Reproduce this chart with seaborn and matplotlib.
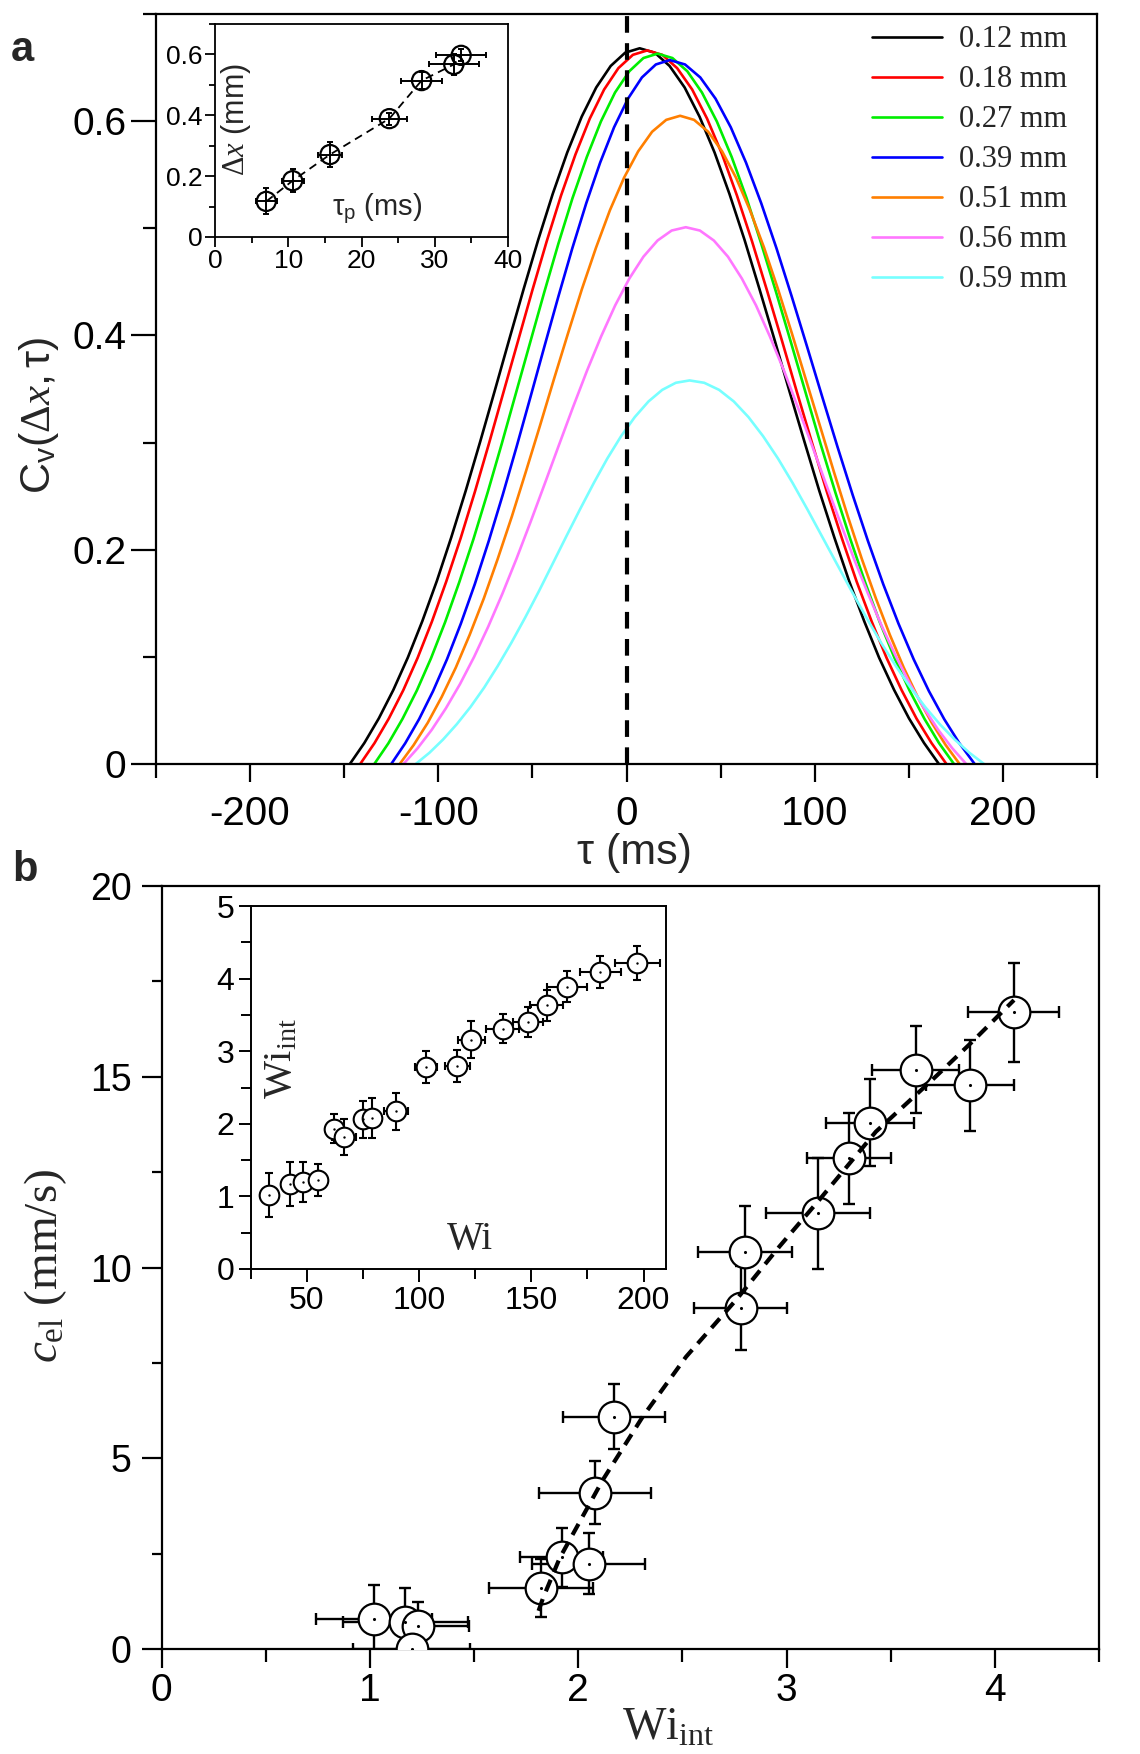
import matplotlib
matplotlib.use("Agg")
import matplotlib.pyplot as plt
import seaborn as sns
from matplotlib import font_manager
from matplotlib.ticker import MultipleLocator, FuncFormatter

# ---------------- data: panel a (correlation curves) ----------------
labels_a = ['0.12 mm', '0.18 mm', '0.27 mm', '0.39 mm', '0.51 mm', '0.56 mm', '0.59 mm']
colors_a = ['#000000', '#ff0000', '#00ee00', '#0000ff', '#ff7f00', '#ff77ff', '#77ffff']

tau_012 = [-147, -139.3, -131.6, -123.9, -116.2, -108.5, -100.8, -93.1, -85.4, -77.7, -70, -62.3, -54.6,
           -46.9, -39.2, -31.5, -23.8, -16.1, -8.4, -0.7, 7,
           15.0, 22.9, 30.9, 38.8, 46.8, 54.7, 62.7, 70.6, 78.6, 86.5, 94.5, 102.4, 110.4, 118.3, 126.3,
           134.2, 142.2, 150.1, 158.1, 166]
C_012 = [0, 0.0196, 0.0426, 0.0691, 0.0993, 0.1333, 0.1707, 0.2116, 0.2552, 0.3011, 0.3484, 0.3963, 0.4436,
         0.4893, 0.5321, 0.5707, 0.6042, 0.6314, 0.6515, 0.6639, 0.668,
         0.6639, 0.6515, 0.6314, 0.6042, 0.5707, 0.5321, 0.4893, 0.4436, 0.3963, 0.3484, 0.3011, 0.2552,
         0.2116, 0.1707, 0.1333, 0.0993, 0.0691, 0.0426, 0.0196, 0]

tau_018 = [-141.5, -133.9, -126.3, -118.6, -111, -103.4, -95.8, -88.1, -80.5, -72.9, -65.3, -57.6, -50,
           -42.4, -34.8, -27.1, -19.5, -11.9, -4.3, 3.4, 11,
           19.0, 26.9, 34.9, 42.8, 50.8, 58.7, 66.7, 74.6, 82.6, 90.5, 98.5, 106.4, 114.4, 122.3, 130.3,
           138.2, 146.2, 154.1, 162.1, 170]
C_018 = [0, 0.0195, 0.0424, 0.0689, 0.0990, 0.1329, 0.1702, 0.2109, 0.2544, 0.3002, 0.3474, 0.3951, 0.4423,
         0.4878, 0.5305, 0.5690, 0.6024, 0.6295, 0.6495, 0.6619, 0.666,
         0.6619, 0.6495, 0.6295, 0.6024, 0.5690, 0.5305, 0.4878, 0.4423, 0.3951, 0.3474, 0.3002, 0.2544,
         0.2109, 0.1702, 0.1329, 0.0990, 0.0689, 0.0424, 0.0195, 0]

tau_027 = [-134, -126.5, -119, -111.4, -103.9, -96.4, -88.9, -81.3, -73.8, -66.3, -58.8, -51.2, -43.7,
           -36.2, -28.7, -21.1, -13.6, -6.1, 1.5, 9.0, 16.5,
           24.4, 32.3, 40.1, 48, 55.9, 63.8, 71.6, 79.5, 87.4, 95.3, 103.1, 111, 118.9, 126.8, 134.6,
           142.5, 150.4, 158.3, 166.1, 174]
C_027 = [0, 0.0194, 0.0422, 0.0686, 0.0986, 0.1323, 0.1695, 0.2100, 0.2533, 0.2988, 0.3458, 0.3934, 0.4403,
         0.4856, 0.5281, 0.5665, 0.5997, 0.6267, 0.6466, 0.6589, 0.663,
         0.6589, 0.6466, 0.6267, 0.5997, 0.5665, 0.5281, 0.4856, 0.4403, 0.3934, 0.3458, 0.2988, 0.2533,
         0.2100, 0.1695, 0.1323, 0.0986, 0.0686, 0.0422, 0.0194, 0]

tau_039 = [-125, -117.6, -110.2, -102.8, -95.4, -88, -80.6, -73.2, -65.8, -58.4, -51, -43.6, -36.2,
           -28.8, -21.4, -14, -6.6, 0.8, 8.2, 15.6, 23,
           31.1, 39.2, 47.3, 55.4, 63.5, 71.6, 79.7, 87.8, 95.9, 104, 112.1, 120.2, 128.3, 136.4, 144.5,
           152.6, 160.7, 168.8, 176.9, 185]
C_039 = [0, 0.0193, 0.0419, 0.0680, 0.0977, 0.1311, 0.1679, 0.2081, 0.2510, 0.2961, 0.3427, 0.3898, 0.4363,
         0.4813, 0.5233, 0.5613, 0.5943, 0.6210, 0.6408, 0.6529, 0.657,
         0.6529, 0.6408, 0.6210, 0.5943, 0.5613, 0.5233, 0.4813, 0.4363, 0.3898, 0.3427, 0.2961, 0.2510,
         0.2081, 0.1679, 0.1311, 0.0977, 0.0680, 0.0419, 0.0193, 0]

tau_051 = [-120.5, -113.1, -105.6, -98.2, -90.7, -83.3, -75.8, -68.4, -60.9, -53.5, -46, -38.6, -31.1,
           -23.7, -16.2, -8.8, -1.3, 6.2, 13.6, 21.1, 28.5,
           35.9, 43.4, 50.8, 58.2, 65.6, 73.1, 80.5, 87.9, 95.3, 102.8, 110.2, 117.6, 125.0, 132.5, 139.9,
           147.3, 154.7, 162.2, 169.6, 177]
C_051 = [0, 0.0177, 0.0385, 0.0626, 0.0900, 0.1207, 0.1546, 0.1916, 0.2311, 0.2727, 0.3156, 0.3589, 0.4018,
         0.4432, 0.4819, 0.5169, 0.5472, 0.5718, 0.5901, 0.6012, 0.605,
         0.6012, 0.5901, 0.5718, 0.5472, 0.5169, 0.4819, 0.4432, 0.4018, 0.3589, 0.3156, 0.2727, 0.2311,
         0.1916, 0.1546, 0.1207, 0.0900, 0.0626, 0.0385, 0.0177, 0]

tau_056 = [-118.5, -111, -103.5, -96, -88.5, -81, -73.5, -66, -58.5, -51, -43.5, -36, -28.5,
           -21, -13.5, -6, 1.5, 9, 16.5, 24, 31.5,
           39.0, 46.4, 53.9, 61.3, 68.8, 76.2, 83.7, 91.1, 98.6, 106, 113.5, 120.9, 128.4, 135.8, 143.3,
           150.7, 158.2, 165.6, 173.1, 180.5]
C_056 = [0, 0.0147, 0.0319, 0.0519, 0.0745, 0.0999, 0.1281, 0.1587, 0.1914, 0.2258, 0.2613, 0.2972, 0.3327,
         0.3670, 0.3990, 0.4281, 0.4531, 0.4735, 0.4886, 0.4979, 0.501,
         0.4979, 0.4886, 0.4735, 0.4531, 0.4281, 0.3990, 0.3670, 0.3327, 0.2972, 0.2613, 0.2258, 0.1914,
         0.1587, 0.1281, 0.0999, 0.0745, 0.0519, 0.0319, 0.0147, 0]

tau_059 = [-112, -104.7, -97.5, -90.2, -82.9, -75.6, -68.4, -61.1, -53.8, -46.5, -39.3, -32.0, -24.7,
           -17.4, -10.2, -2.9, 4.4, 11.7, 19.0, 26.2, 33.5,
           41.3, 49.2, 57.0, 64.8, 72.6, 80.5, 88.3, 96.1, 103.9, 111.8, 119.6, 127.4, 135.2, 143.1, 150.9,
           158.7, 166.5, 174.4, 182.2, 190]
C_059 = [0, 0.0105, 0.0228, 0.0371, 0.0532, 0.0714, 0.0915, 0.1134, 0.1368, 0.1614, 0.1867, 0.2124, 0.2377,
         0.2622, 0.2851, 0.3059, 0.3238, 0.3384, 0.3492, 0.3558, 0.358,
         0.3558, 0.3492, 0.3384, 0.3238, 0.3059, 0.2851, 0.2622, 0.2377, 0.2124, 0.1867, 0.1614, 0.1368,
         0.1134, 0.0915, 0.0714, 0.0532, 0.0371, 0.0228, 0.0105, 0]

taus_a = [tau_012, tau_018, tau_027, tau_039, tau_051, tau_056, tau_059]
Cs_a = [C_012, C_018, C_027, C_039, C_051, C_056, C_059]

# inset a : delta x vs tau_p
tau_p = [7.0, 10.6, 15.7, 23.8, 28.2, 32.6, 33.6]
tau_p_err = [1.4, 1.5, 1.7, 2.4, 2.8, 3.4, 3.4]
dx = [0.117, 0.185, 0.271, 0.389, 0.514, 0.567, 0.597]
dx_err = [0.043, 0.037, 0.041, 0.02, 0.027, 0.033, 0.02]

# ---------------- data: panel b ----------------
wi_int = [1.02, 1.17, 1.23, 1.20, 1.82, 1.92, 2.05, 2.08, 2.17, 2.78, 2.80, 3.15, 3.30, 3.40, 3.62, 3.88, 4.09]
c_el = [0.79, 0.72, 0.61, 0.0, 1.59, 2.40, 2.24, 4.10, 6.09, 8.95, 10.40, 11.42, 12.86, 13.80, 15.19, 14.78, 16.69]
wi_int_err = [0.28, 0.30, 0.245, 0.28, 0.25, 0.20, 0.27, 0.27, 0.245, 0.224, 0.224, 0.25, 0.20, 0.21, 0.21, 0.21, 0.22]
c_el_err = [0.88, 0.89, 0.63, 0.5, 0.76, 0.78, 0.79, 0.82, 0.85, 1.1, 1.2, 1.45, 1.2, 1.15, 1.15, 1.19, 1.3]

fit_wi = [1.81, 1.831, 1.911, 2.118, 2.31, 2.518, 2.758, 2.966, 3.157, 3.429, 3.70, 3.892, 4.092]
fit_c = [1.0, 1.33, 2.38, 4.43, 6.09, 7.66, 9.15, 10.55, 11.77, 13.56, 14.92, 15.92, 17.01]

# inset b : Wi_int vs Wi
wi = [33.2, 42.6, 48.5, 55.2, 62.2, 66.6, 75.2, 79.0, 89.7, 103.0, 117.1, 123.2, 137.2, 148.5, 156.9, 165.8, 180.7, 197.3]
wi_err = [2.2, 3, 3, 4, 3, 5.2, 2, 2, 5.2, 5, 5.7, 6, 7.4, 6.8, 7.3, 8.8, 9.2, 9.9]
wi_int_in = [1.02, 1.17, 1.20, 1.23, 1.93, 1.82, 2.06, 2.08, 2.17, 2.78, 2.80, 3.16, 3.31, 3.40, 3.63, 3.89, 4.09, 4.21]
wi_int_in_err = [0.30, 0.30, 0.28, 0.22, 0.2, 0.25, 0.26, 0.27, 0.25, 0.22, 0.22, 0.25, 0.2, 0.21, 0.21, 0.21, 0.22, 0.235]

# ---------------- style ----------------
sns.set_theme(style="ticks")
names = {f.name for f in font_manager.fontManager.ttflist}
NARROW = 'Liberation Sans Narrow' if 'Liberation Sans Narrow' in names else None
plt.rcParams.update({
    'font.family': ['Liberation Sans', 'DejaVu Sans'],
    'mathtext.fontset': 'custom',
    'mathtext.rm': 'Liberation Serif',
    'mathtext.it': 'Liberation Serif:italic',
    'mathtext.sf': 'Liberation Sans',
    'mathtext.bf': 'Liberation Serif:bold',
    'axes.unicode_minus': False,
    'axes.linewidth': 1.6,
    'axes.edgecolor': 'black',
    'xtick.color': 'black', 'ytick.color': 'black',
    'xtick.direction': 'out', 'ytick.direction': 'out',
})

W, H = 1140, 1754
fig = plt.figure(figsize=(W / 100, H / 100), dpi=100)


def rect(l, t, r, b):
    return [l / W, 1 - b / H, (r - l) / W, (b - t) / H]


fmt = FuncFormatter(lambda v, p: '%g' % round(v, 6))
if NARROW:
    xfam, xsz_a, xsz_b, xsz_ib = NARROW, 33, 32, 27
else:
    xfam, xsz_a, xsz_b, xsz_ib = 'Liberation Sans', 29, 28, 23

# ---------------- panel a ----------------
axA = fig.add_axes(rect(156, 14, 1097, 764))
for lab, col, t, c in zip(labels_a, colors_a, taus_a, Cs_a):
    sns.lineplot(x=t, y=c, ax=axA, color=col, lw=1.9, label=lab, sort=False, estimator=None)
axA.axvline(0, color='black', lw=3, ls=(0, (4, 2.5)), zorder=3)
axA.set_xlim(-250, 250)
axA.set_ylim(0, 0.7)
axA.xaxis.set_major_locator(MultipleLocator(100))
axA.xaxis.set_minor_locator(MultipleLocator(50))
axA.yaxis.set_major_locator(MultipleLocator(0.2))
axA.yaxis.set_minor_locator(MultipleLocator(0.1))
axA.xaxis.set_major_formatter(fmt)
axA.yaxis.set_major_formatter(fmt)
axA.tick_params(axis='x', which='major', length=13, width=1.6, labelsize=xsz_a, pad=9, labelfontfamily=xfam)
axA.tick_params(axis='x', which='minor', length=10, width=1.6)
axA.tick_params(axis='y', which='major', length=18, width=1.6, labelsize=28, pad=3.5)
axA.tick_params(axis='y', which='minor', length=9.5, width=1.6)
axA.set_xlabel('')
axA.set_ylabel('')
axA.legend(loc='upper left', bbox_to_anchor=(0.761, 0.985), frameon=False,
           prop={'family': 'Liberation Serif', 'size': 22}, handlelength=2.3,
           handletextpad=0.55, labelspacing=0.36, borderaxespad=0, borderpad=0)

fig.text(0.034, 0.763, r'$\mathsf{C}_{\mathsf{v}}\mathsf{(}\Delta\mathit{x}\mathsf{,\tau)}$',
         rotation=90, fontsize=31, ha='center', va='center')
fig.text(634 / W, 1 - 853 / H, 'τ (ms)', fontsize=31, ha='center', va='center')
fig.text(22 / W, 1 - 50 / H, 'a', fontsize=30, fontweight='bold', ha='center', va='center')

# inset a
axIA = fig.add_axes(rect(215, 24, 508, 237))
axIA.errorbar(tau_p, dx, xerr=tau_p_err, yerr=dx_err, fmt='none', ecolor='black',
              elinewidth=1.4, capsize=2, capthick=1.4, zorder=3)
sns.lineplot(x=tau_p, y=dx, ax=axIA, color='black', lw=1.3, ls=(0, (4.5, 3)),
             sort=False, estimator=None, zorder=2)
sns.scatterplot(x=tau_p, y=dx, ax=axIA, s=190, marker='o', facecolor='none',
                edgecolor='black', linewidth=1.6, zorder=4)
axIA.set_xlim(0, 40)
axIA.set_ylim(0, 0.7)
axIA.xaxis.set_major_locator(MultipleLocator(10))
axIA.xaxis.set_minor_locator(MultipleLocator(5))
axIA.yaxis.set_major_locator(MultipleLocator(0.2))
axIA.yaxis.set_minor_locator(MultipleLocator(0.1))
axIA.xaxis.set_major_formatter(fmt)
axIA.yaxis.set_major_formatter(fmt)
axIA.tick_params(which='major', length=7, width=1.3, labelsize=19, pad=2)
axIA.tick_params(which='minor', length=4, width=1.3)
for s in axIA.spines.values():
    s.set_linewidth(1.3)
axIA.set_xlabel('')
axIA.set_ylabel('')
axIA.text(0.072, 0.55, r'$\Delta\mathit{x}$ (mm)', rotation=90, transform=axIA.transAxes,
          fontsize=22, ha='center', va='center')
axIA.text(0.553, 0.13, r'τ$_{\mathsf{p}}$ (ms)', transform=axIA.transAxes,
          fontsize=21, ha='center', va='center')

# ---------------- panel b ----------------
axB = fig.add_axes(rect(161.5, 886, 1099, 1649))
axB.errorbar(wi_int, c_el, xerr=wi_int_err, yerr=c_el_err, fmt='none', ecolor='black',
             elinewidth=1.7, capsize=4.5, capthick=1.7, zorder=2)
sns.scatterplot(x=wi_int, y=c_el, ax=axB, s=520, marker='o', facecolor='white',
                edgecolor='black', linewidth=1.6, zorder=3)
sns.scatterplot(x=wi_int, y=c_el, ax=axB, s=5, marker='o', color='black', linewidth=0, zorder=4)
sns.lineplot(x=fit_wi, y=fit_c, ax=axB, color='black', lw=3, ls=(0, (3, 2)),
             sort=False, estimator=None, zorder=5)
axB.set_xlim(0, 4.5)
axB.set_ylim(0, 20)
axB.xaxis.set_major_locator(MultipleLocator(1))
axB.xaxis.set_minor_locator(MultipleLocator(0.5))
axB.yaxis.set_major_locator(MultipleLocator(5))
axB.yaxis.set_minor_locator(MultipleLocator(2.5))
axB.xaxis.set_major_formatter(fmt)
axB.yaxis.set_major_formatter(fmt)
axB.tick_params(axis='x', which='major', length=14, width=1.6, labelsize=xsz_b, pad=3, labelfontfamily=xfam)
axB.tick_params(axis='x', which='minor', length=9, width=1.6)
axB.tick_params(axis='y', which='major', length=14.4, width=1.6, labelsize=27, pad=7)
axB.tick_params(axis='y', which='minor', length=7, width=1.6)
axB.set_xlabel('')
axB.set_ylabel('')

fig.text(46 / W, 1 - 1266 / H, r'$\mathit{c}_{\mathrm{el}}$ (mm/s)', family='Liberation Serif',
         rotation=90, fontsize=34, ha='center', va='center')
fig.text(668 / W, 1 - 1740 / H, r'Wi$_{\mathrm{int}}$', family='Liberation Serif',
         fontsize=33, ha='center', va='baseline')
fig.text(25 / W, 1 - 870 / H, 'b', fontsize=30, fontweight='bold', ha='center', va='center')

# inset b
axIB = fig.add_axes(rect(250.7, 906, 666, 1269))
axIB.errorbar(wi, wi_int_in, xerr=wi_err, yerr=wi_int_in_err, fmt='none', ecolor='black',
              elinewidth=1.5, capsize=3, capthick=1.5, zorder=2)
sns.scatterplot(x=wi, y=wi_int_in, ax=axIB, s=200, marker='o', facecolor='white',
                edgecolor='black', linewidth=1.5, zorder=3)
sns.scatterplot(x=wi, y=wi_int_in, ax=axIB, s=3, marker='o', color='black', linewidth=0, zorder=4)
axIB.set_xlim(25, 210)
axIB.set_ylim(0, 5)
axIB.xaxis.set_major_locator(MultipleLocator(50))
axIB.xaxis.set_minor_locator(MultipleLocator(25))
axIB.yaxis.set_major_locator(MultipleLocator(1))
axIB.yaxis.set_minor_locator(MultipleLocator(0.5))
axIB.xaxis.set_major_formatter(fmt)
axIB.yaxis.set_major_formatter(fmt)
axIB.tick_params(which='major', length=9, width=1.4, labelsize=xsz_ib, pad=3, labelfontfamily=xfam)
axIB.tick_params(which='minor', length=7, width=1.4)
for s in axIB.spines.values():
    s.set_linewidth(1.4)
axIB.set_xlabel('')
axIB.set_ylabel('')
axIB.text(0.075, 0.58, r'Wi$_{\mathrm{int}}$', family='Liberation Serif', rotation=90,
          transform=axIB.transAxes, fontsize=29, ha='center', va='center')
axIB.text(0.528, 0.08, 'Wi', family='Liberation Serif', transform=axIB.transAxes,
          fontsize=28, ha='center', va='center')

fig.savefig('out.png', dpi=100)
